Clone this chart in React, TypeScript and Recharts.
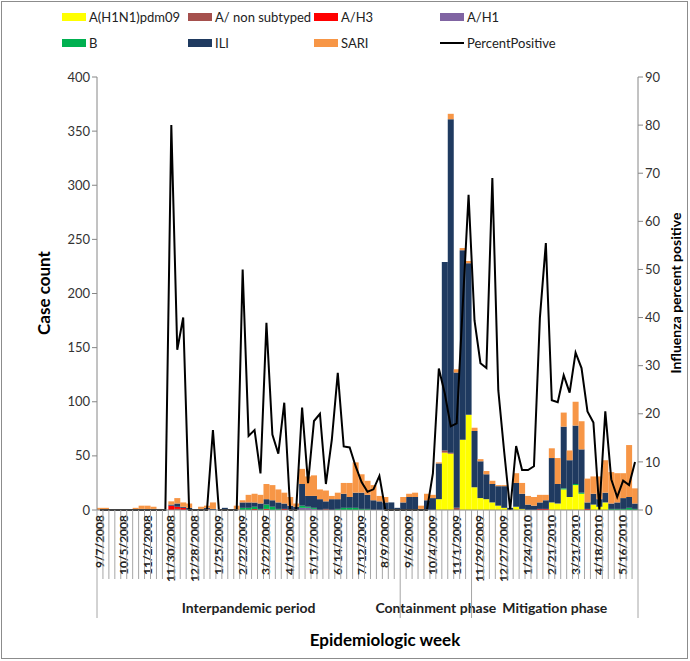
import { Bar, ComposedChart, Line, XAxis, YAxis } from "recharts";

const W = 690;
const H = 661;
const PLOT_LEFT = 97;
const PLOT_RIGHT = 638;
const PLOT_TOP = 77;
const PLOT_BOTTOM = 510;
const FONT = "Lato, 'Noto Sans', sans-serif";

// weekly categories, 9/7/2008 .. 5/30/2010
function buildWeeks(): string[] {
  const out: string[] = [];
  const d = new Date(2008, 8, 7);
  for (let i = 0; i < 91; i++) {
    out.push(`${d.getMonth() + 1}/${d.getDate()}/${d.getFullYear()}`);
    d.setDate(d.getDate() + 7);
  }
  return out;
}
const WEEKS = buildWeeks();

const PHASES = [
  { name: "Interpandemic period", start: 0, end: 51 },
  { name: "Containment phase", start: 51, end: 63 },
  { name: "Mitigation phase", start: 63, end: 91 },
];

// case counts per week
const H1N1_PDM09 = [
  0, 0, 0, 0, 0, 0, 0, 0, 0, 0,
  0, 0, 0, 0, 0, 0, 0, 0, 0, 0,
  0, 0, 0, 0, 0, 0, 0, 0, 0, 0,
  0, 0, 0, 0, 0, 0, 0, 0, 0, 0,
  0, 0, 0, 0, 0, 0, 0, 0, 0, 0,
  0, 0, 0, 0, 0, 0, 0, 10, 53, 52,
  0, 65, 88, 21, 11, 10, 7, 4, 2, 0,
  3, 1, 0, 0, 0, 0, 7, 6, 19, 12,
  23, 15, 0, 5, 3, 7, 0, 0, 0, 0,
  0,
];
const A_NON_SUBTYPED = [
  0, 0, 0, 0, 0, 0, 0, 0, 0, 0,
  0, 0, 0, 1, 0, 0, 0, 0, 1, 0,
  0, 0, 0, 0, 0, 0, 0, 0, 0, 0,
  0, 0, 0, 0, 0, 0, 0, 0, 1, 0,
  0, 0, 0, 0, 0, 0, 0, 0, 0, 0,
  0, 0, 0, 0, 0, 0, 0, 0, 2, 1,
  2, 0, 0, 0, 0, 0, 0, 0, 0, 0,
  0, 0, 0, 0, 0, 0, 0, 0, 0, 0,
  0, 0, 0, 0, 0, 0, 0, 0, 0, 0,
  0,
];
const A_H3 = [
  0, 0, 0, 0, 0, 0, 0, 0, 0, 0,
  0, 0, 4, 2, 2, 0, 0, 0, 0, 0,
  0, 0, 0, 0, 0, 0, 1, 0, 1, 0,
  0, 1, 0, 0, 0, 0, 0, 0, 0, 0,
  0, 0, 0, 0, 0, 0, 0, 0, 0, 0,
  0, 0, 0, 0, 0, 0, 0, 0, 0, 0,
  0, 0, 0, 0, 0, 0, 0, 0, 0, 0,
  0, 0, 0, 0, 1, 1, 0, 0, 0, 0,
  0, 0, 1, 0, 0, 0, 0, 0, 0, 0,
  0,
];
const A_H1 = [
  0, 0, 0, 0, 0, 0, 0, 0, 0, 0,
  0, 0, 0, 0, 0, 0, 0, 0, 0, 0,
  0, 0, 0, 0, 0, 0, 0, 0, 0, 0,
  0, 0, 0, 0, 2, 2, 1, 0, 0, 0,
  0, 0, 0, 0, 0, 0, 0, 0, 0, 0,
  0, 0, 0, 0, 0, 0, 0, 0, 0, 0,
  0, 0, 0, 0, 0, 0, 0, 0, 0, 0,
  0, 0, 0, 0, 0, 0, 0, 0, 0, 0,
  0, 0, 0, 0, 0, 0, 0, 0, 0, 0,
  0,
];
const FLU_B = [
  0, 0, 0, 0, 0, 0, 0, 0, 0, 0,
  0, 0, 0, 0, 0, 0, 0, 0, 0, 0,
  0, 0, 0, 0, 2, 2, 2, 1, 4, 3,
  1, 0, 0, 0, 2, 1, 1, 0, 0, 0,
  1, 2, 2, 2, 1, 1, 0, 0, 0, 0,
  0, 0, 0, 0, 0, 0, 0, 0, 0, 0,
  0, 0, 0, 0, 0, 0, 0, 0, 0, 0,
  0, 0, 0, 0, 0, 0, 0, 0, 1, 0,
  1, 1, 0, 0, 0, 0, 1, 1, 1, 2,
  1,
];
const ILI = [
  0, 0, 0, 0, 0, 0, 0, 1, 0, 1,
  0, 0, 1, 3, 1, 2, 0, 1, 1, 1,
  0, 2, 0, 0, 5, 5, 4, 5, 5, 6,
  6, 5, 4, 3, 20, 10, 11, 10, 7, 10,
  9, 13, 10, 14, 15, 13, 9, 8, 7, 7,
  2, 7, 12, 12, 1, 9, 11, 33, 174, 308,
  125, 175, 140, 52, 34, 23, 17, 18, 20, 2,
  22, 14, 5, 4, 6, 8, 41, 18, 57, 34,
  54, 40, 6, 10, 7, 9, 5, 6, 10, 10,
  5,
];
const SARI = [
  2, 2, 0, 0, 0, 1, 2, 3, 4, 2,
  1, 0, 3, 5, 4, 4, 0, 2, 2, 6,
  0, 0, 0, 4, 2, 7, 8, 8, 14, 14,
  12, 10, 8, 3, 14, 18, 19, 9, 10, 3,
  6, 10, 13, 28, 17, 13, 14, 5, 5, 0,
  0, 5, 3, 4, 3, 6, 3, 1, 0, 5,
  3, 2, 2, 3, 2, 3, 3, 1, 1, 0,
  9, 10, 8, 8, 7, 5, 9, 24, 13, 9,
  22, 26, 22, 16, 21, 30, 29, 27, 23, 48,
  14,
];
// influenza percent positive
const PERCENT_POSITIVE = [
  0, 0, 0, 0, 0, 0, 0, 0, 0, 0,
  0, 0, 80, 33.3, 40, 0, 0, 0, 0, 16.6,
  0, 0, 0, 0, 50, 15.4, 16.6, 7.6, 38.9, 15.7,
  11.7, 22.3, 0, 0, 21.3, 5.6, 18.5, 20, 5.4, 14.6,
  28.5, 13.2, 13, 9.1, 5.8, 3.8, 4.3, 7.1, 0, 0,
  0, 0, 0, 0, 0, 0, 7.6, 29.4, 24.2, 17.4,
  18, 42, 65.5, 39.4, 30.5, 29.5, 69, 24.9, 12, 0,
  13.3, 8.3, 8.3, 9.1, 40, 55.5, 22.8, 22.4, 28, 24.4,
  32.7, 29.5, 20.5, 18.2, 0, 20.5, 6.4, 2.7, 6.1, 5.2,
  10,
];

const COUNT_TICKS = [0, 50, 100, 150, 200, 250, 300, 350, 400];
const PCT_TICKS = [0, 10, 20, 30, 40, 50, 60, 70, 80, 90];

const SERIES = [
  { key: "h1n1", name: "A(H1N1)pdm09", color: "#FFFF00" },
  { key: "nonsub", name: "A/ non subtyped", color: "#A5504D" },
  { key: "h3", name: "A/H3", color: "#FF0000" },
  { key: "h1", name: "A/H1", color: "#8064A2" },
  { key: "b", name: "B", color: "#00B050" },
  { key: "ili", name: "ILI", color: "#1F3A60" },
  { key: "sari", name: "SARI", color: "#F79646" },
];

const data = WEEKS.map((week, i) => ({
  week,
  h1n1: H1N1_PDM09[i],
  nonsub: A_NON_SUBTYPED[i],
  h3: A_H3[i],
  h1: A_H1[i],
  b: FLU_B[i],
  ili: ILI[i],
  sari: SARI[i],
  pct: PERCENT_POSITIVE[i],
}));

const STEP = (PLOT_RIGHT - PLOT_LEFT) / WEEKS.length;

function WeekTick({ x, index }: any) {
  const left = x - STEP / 2;
  const isPhaseEdge = PHASES.some((p) => p.start === index);
  const last = index === WEEKS.length - 1;
  return (
    <g>
      <line x1={left} x2={left} y1={PLOT_BOTTOM} y2={isPhaseEdge ? 618 : 579} stroke="#a6a6a6" />
      {last && <line x1={x + STEP / 2} x2={x + STEP / 2} y1={PLOT_BOTTOM} y2={618} stroke="#a6a6a6" />}
      {index % 4 === 0 && (
        <text
          transform={`translate(${x + 4},${PLOT_BOTTOM + 5}) rotate(-90)`}
          textAnchor="end"
          fontSize={12}
          fontWeight="bold"
          fontFamily={FONT}
          fill="#222"
        >
          {WEEKS[index]}
        </text>
      )}
      {index === 0 &&
        PHASES.map((p) => (
          <text
            key={p.name}
            x={PLOT_LEFT + (STEP * (p.start + p.end)) / 2}
            y={613}
            textAnchor="middle"
            fontSize={14}
            fontWeight="bold"
            fontFamily={FONT}
            fill="#222"
          >
            {p.name}
          </text>
        ))}
    </g>
  );
}

const LEGEND_COLS = [62, 188, 314, 440];
const LEGEND_ROWS = [17, 43];
const LEGEND_ITEMS = [...SERIES.map((s) => ({ name: s.name, color: s.color, line: false })), { name: "PercentPositive", color: "#000", line: true }];

export default function App() {
  return (
    <div style={{ position: "absolute", left: 0, top: 0, width: W, height: H, background: "#fff", fontFamily: FONT }}>
      <ComposedChart
        width={W}
        height={H}
        data={data}
        margin={{ top: PLOT_TOP, right: 0, bottom: 0, left: 0 }}
        barCategoryGap={0}
        barGap={0}
      >
        <XAxis
          dataKey="week"
          interval={0}
          height={H - PLOT_BOTTOM}
          tickLine={false}
          tickSize={0}
          axisLine={{ stroke: "#868686" }}
          tick={<WeekTick />}
        />
        <YAxis
          yAxisId="count"
          width={PLOT_LEFT}
          domain={[0, 400]}
          ticks={COUNT_TICKS}
          interval={0}
          axisLine={{ stroke: "#868686" }}
          tickLine={{ stroke: "#868686" }}
          tickSize={5}
          tick={{ fill: "#333", fontSize: 13, fontFamily: FONT }}
        />
        <YAxis
          yAxisId="pct"
          orientation="right"
          width={W - PLOT_RIGHT}
          domain={[0, 90]}
          ticks={PCT_TICKS}
          interval={0}
          axisLine={{ stroke: "#868686" }}
          tickLine={{ stroke: "#868686" }}
          tickSize={5}
          tick={{ fill: "#333", fontSize: 13, fontFamily: FONT }}
        />
        {SERIES.map((s) => (
          <Bar key={s.key} yAxisId="count" dataKey={s.key} name={s.name} stackId="cases" fill={s.color} isAnimationActive={false} />
        ))}
        <Line
          yAxisId="pct"
          dataKey="pct"
          name="PercentPositive"
          type="linear"
          stroke="#000"
          strokeWidth={2}
          dot={false}
          isAnimationActive={false}
        />
      </ComposedChart>
      <svg width={W} height={H} style={{ position: "absolute", left: 0, top: 0, pointerEvents: "none" }}>
        <rect x={1.5} y={1.5} width={W - 4} height={H - 4} fill="none" stroke="#8c8c8c" />
        {LEGEND_ITEMS.map((item, i) => {
          const x = LEGEND_COLS[i % 4];
          const y = LEGEND_ROWS[Math.floor(i / 4)];
          return (
            <g key={item.name}>
              {item.line ? (
                <line x1={x} x2={x + 24} y1={y} y2={y} stroke="#000" strokeWidth={2} />
              ) : (
                <rect x={x} y={y - 4} width={24} height={8} fill={item.color} />
              )}
              <text x={x + 27} y={y + 5} fontSize={13} fontFamily={FONT} fill="#222">
                {item.name}
              </text>
            </g>
          );
        })}
        <text transform="translate(50,293) rotate(-90)" textAnchor="middle" fontSize={17} fontWeight="bold" fontFamily={FONT} fill="#000">
          Case count
        </text>
        <text transform="translate(681,293) rotate(-90)" textAnchor="middle" fontSize={14} fontWeight="bold" fontFamily={FONT} fill="#000">
          Influenza percent positive
        </text>
        <text x={385} y={646} textAnchor="middle" fontSize={17} fontWeight="bold" fontFamily={FONT} fill="#000">
          Epidemiologic week
        </text>
      </svg>
    </div>
  );
}
